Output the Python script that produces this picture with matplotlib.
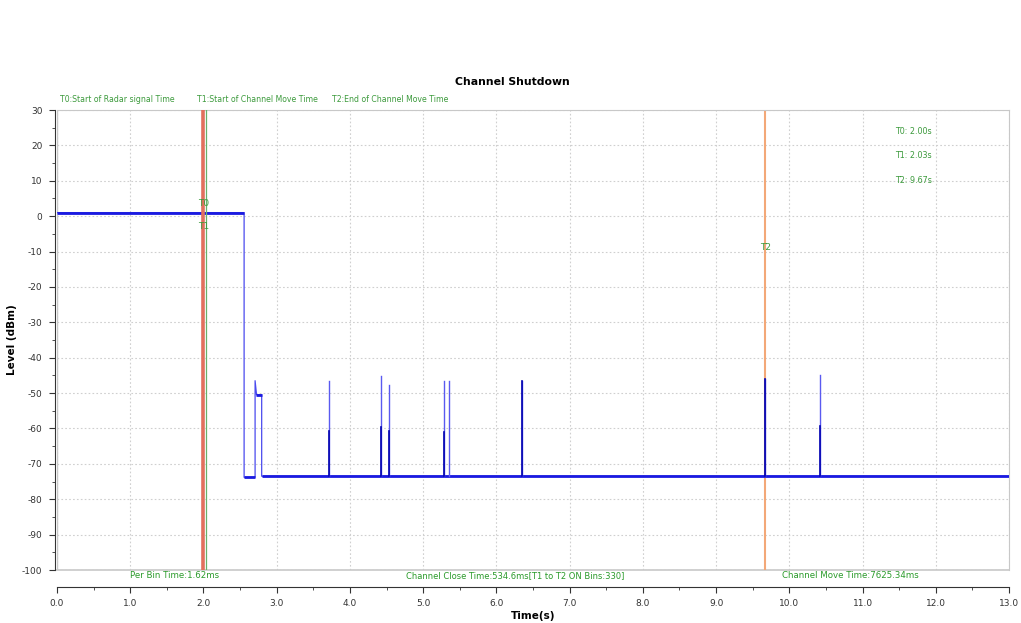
import matplotlib
matplotlib.use("Agg")
import matplotlib.pyplot as plt
from matplotlib.ticker import MultipleLocator, FormatStrFormatter

plt.rcParams["axes.unicode_minus"] = False

# ---- data ----
# main trace: time (s) and level (dBm) at its turning points
trace_t = [0.00, 2.555, 2.555, 2.705, 2.705, 2.725, 2.795, 2.795, 13.00]
trace_level = [1.0, 1.0, -73.8, -73.8, -46.5, -50.5, -50.5, -73.5, -73.5]

# noisy plateaus (start, end, level) drawn as a fuzzy band
plateau_start = [0.00, 2.555, 2.715, 2.80]
plateau_end = [2.555, 2.705, 2.795, 13.00]
plateau_level = [1.0, -73.8, -50.5, -73.5]

# short bursts on the noise floor
spike_t = [3.71, 4.43, 4.53, 5.29, 5.35, 6.35, 9.67, 10.42]
spike_peak = [-46.5, -45.2, -47.7, -46.7, -46.7, -46.7, -46.0, -45.0]
spike_dense = [-60.6, -59.5, -60.6, -61.0, -73.5, -46.7, -46.0, -59.4]
floor_level = -73.5

# markers
marker_names = ["T0", "T1", "T2"]
marker_times = [2.00, 2.03, 9.67]
marker_desc = ["T0:Start of Radar signal Time", "T1:Start of Channel Move Time",
               "T2:End of Channel Move Time"]
marker_vals = ["T0: 2.00s", "T1: 2.03s", "T2: 9.67s"]

per_bin = "Per Bin Time:1.62ms"
close_time = "Channel Close Time:534.6ms[T1 to T2 ON Bins:330]"
move_time = "Channel Move Time:7625.34ms"

# ---- figure ----
fig = plt.figure(figsize=(10.21, 6.23), dpi=100)
ax = fig.add_axes([57 / 1021, 1 - 570 / 623, 952 / 1021, 460 / 623])

green = "#3c9a3c"
blue = "#1a1ae0"

ax.set_xlim(0, 13)
ax.set_ylim(-100, 30)

# grid
ax.grid(True, which="major", color="#cfcfcf", linestyle=(0, (1.5, 2)), linewidth=0.8)
ax.set_axisbelow(True)

# trace
ax.plot(trace_t, trace_level, color="#4a4aee", lw=0.9, zorder=3)
for s, e, lv in zip(plateau_start, plateau_end, plateau_level):
    ax.plot([s, e], [lv, lv], color=blue, lw=2.0, solid_capstyle="butt", zorder=3)
for t, pk, dn in zip(spike_t, spike_peak, spike_dense):
    ax.plot([t, t], [floor_level, pk], color="#5a5af0", lw=1.0, zorder=3)
    ax.plot([t, t], [floor_level, dn], color="#0000b0", lw=1.2, zorder=3)

# marker lines
ax.axvline(marker_times[0], color="#e2705e", lw=2.6, zorder=4)
ax.axvline(marker_times[1], color="#6ab06a", lw=0.9, zorder=4)
ax.axvline(marker_times[2], color="#f3a878", lw=1.5, zorder=2)

ax.text(marker_times[0], 3.5, marker_names[0], color=green, fontsize=6.5, ha="center",
        va="center", zorder=5)
ax.text(marker_times[0], -3.0, marker_names[1], color=green, fontsize=6.5, ha="center",
        va="center", zorder=5)
ax.text(marker_times[2], -9.0, marker_names[2], color=green, fontsize=6.5, ha="center",
        va="center", zorder=5)

# spines
for s in ["top", "right"]:
    ax.spines[s].set_color("#c8c8c8")
ax.spines["left"].set_color("#333333")
ax.spines["left"].set_position(("outward", 1.5))
ax.spines["bottom"].set_color("#333333")
ax.spines["bottom"].set_position(("outward", 12.2))
ax.axhline(-100, color="#c8c8c8", lw=1.2, clip_on=False, zorder=1)
ax.axvline(0, color="#c8c8c8", lw=1.0, zorder=1)

# ticks
ax.xaxis.set_major_locator(MultipleLocator(1.0))
ax.xaxis.set_minor_locator(MultipleLocator(0.5))
ax.xaxis.set_major_formatter(FormatStrFormatter("%.1f"))
ax.yaxis.set_major_locator(MultipleLocator(10))
ax.yaxis.set_minor_locator(MultipleLocator(5))
ax.tick_params(axis="both", which="major", labelsize=6.5, length=4, color="#333333",
               labelcolor="#333333", pad=5)
ax.tick_params(axis="both", which="minor", length=2, color="#333333")

ax.set_xlabel("Time(s)", fontsize=7.5, fontweight="bold", labelpad=2)
ax.set_ylabel("Level (dBm)", fontsize=7.5, fontweight="bold")
ax.yaxis.set_label_coords(-40 / 952, 0.5)

# title & annotations
fig.text(512 / 1021, 1 - 82 / 623, "Channel Shutdown", fontsize=7.8, fontweight="bold",
         ha="center", va="center")
desc_x = [60, 197, 332]
for x, s in zip(desc_x, marker_desc):
    fig.text(x / 1021, 1 - 100 / 623, s, color=green, fontsize=5.6,
             ha="left", va="center")
for i, s in enumerate(marker_vals):
    fig.text(895 / 1021, 1 - (132 + 24 * i) / 623, s, color=green, fontsize=5.8,
             ha="left", va="center")

bottom_y = 1 - 576 / 623
fig.text(175 / 1021, bottom_y, per_bin, color="#2a9a2a", fontsize=6.2,
         ha="center", va="center")
fig.text(515 / 1021, bottom_y, close_time, color="#2a9a2a", fontsize=6.0,
         ha="center", va="center")
fig.text(850 / 1021, bottom_y, move_time, color="#2a9a2a", fontsize=6.2,
         ha="center", va="center")

fig.savefig("out.png", dpi=100)
